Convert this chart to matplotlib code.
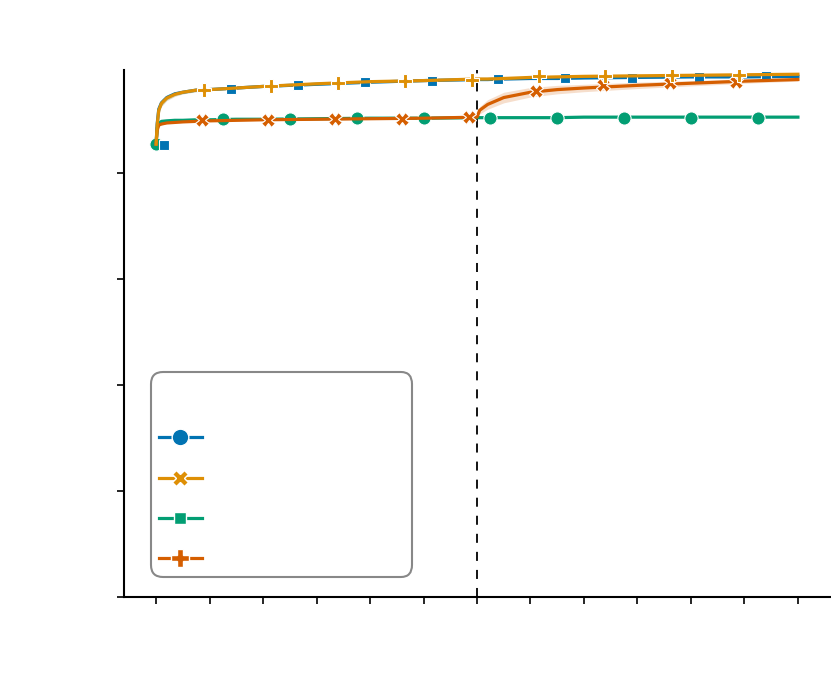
import matplotlib.pyplot as plt
from matplotlib.lines import Line2D

# ----------------------------------------------------------------------------
# Data
x = [0, 0.02, 0.05, 0.1, 0.2, 0.35, 0.5, 0.75, 1, 1.5, 2, 3, 4, 5, 6,
     6.05, 6.2, 6.5, 7, 7.5, 8, 9, 10, 11, 12]

blue_y = [0.855, 0.893, 0.921, 0.933, 0.943, 0.950, 0.953, 0.957, 0.958,
          0.961, 0.964, 0.968, 0.972, 0.975, 0.977, 0.977, 0.977, 0.978,
          0.979, 0.979, 0.980, 0.981, 0.982, 0.982, 0.983]
orange_y = [0.855, 0.891, 0.919, 0.932, 0.942, 0.949, 0.953, 0.957, 0.958,
            0.961, 0.964, 0.969, 0.973, 0.975, 0.978, 0.978, 0.978, 0.979,
            0.981, 0.982, 0.983, 0.984, 0.985, 0.986, 0.987]
green_y = [0.855, 0.885, 0.894, 0.898, 0.899, 0.900, 0.900, 0.901, 0.901,
           0.902, 0.902, 0.903, 0.904, 0.904, 0.905, 0.905, 0.905, 0.905,
           0.905, 0.905, 0.906, 0.906, 0.906, 0.906, 0.906]
verm_y = [0.855, 0.881, 0.891, 0.893, 0.895, 0.896, 0.897, 0.898, 0.899,
          0.900, 0.901, 0.902, 0.903, 0.904, 0.906, 0.919, 0.930, 0.943,
          0.953, 0.958, 0.961, 0.966, 0.970, 0.974, 0.977]

# half width of the shaded bands
blue_sd = [0, 0.006, 0.007, 0.006, 0.005, 0.004, 0.003, 0.003, 0.002,
           0.002, 0.002, 0.002, 0.002, 0.002, 0.002, 0.002, 0.002, 0.002,
           0.002, 0.002, 0.002, 0.002, 0.002, 0.002, 0.002]
orange_sd = [0, 0.006, 0.007, 0.006, 0.005, 0.004, 0.003, 0.003, 0.002,
             0.002, 0.002, 0.002, 0.002, 0.002, 0.002, 0.002, 0.002, 0.002,
             0.002, 0.002, 0.002, 0.002, 0.002, 0.002, 0.002]
green_sd = [0, 0.003, 0.002, 0.002, 0.001, 0.001, 0.001, 0.001, 0.001,
            0.001, 0.001, 0.001, 0.001, 0.001, 0.001, 0.001, 0.001, 0.001,
            0.001, 0.001, 0.001, 0.001, 0.001, 0.001, 0.001]
verm_sd = [0, 0.003, 0.002, 0.002, 0.001, 0.001, 0.001, 0.001, 0.001,
           0.001, 0.001, 0.001, 0.001, 0.001, 0.002, 0.007, 0.009, 0.010,
           0.009, 0.008, 0.007, 0.006, 0.005, 0.004, 0.003]

# marker positions
green_mx = [0, 1.25, 2.5, 3.75, 5, 6.25, 7.5, 8.75, 10, 11.25]
green_my = [0.855, 0.902, 0.903, 0.904, 0.904, 0.905, 0.905, 0.905, 0.905, 0.905]
blue_mx = [0.15, 1.4, 2.65, 3.9, 5.15, 6.4, 7.65, 8.9, 10.15, 11.4]
blue_my = [0.853, 0.959, 0.966, 0.972, 0.975, 0.978, 0.979, 0.980, 0.981, 0.983]
orange_mx = [0.9, 2.15, 3.4, 4.65, 5.9, 7.15, 8.4, 9.65, 10.9]
orange_my = [0.958, 0.965, 0.970, 0.974, 0.977, 0.983, 0.984, 0.985, 0.986]
verm_mx = [0.85, 2.1, 3.35, 4.6, 5.85, 7.1, 8.35, 9.6, 10.85]
verm_my = [0.900, 0.901, 0.902, 0.903, 0.906, 0.956, 0.966, 0.970, 0.973]

x_ticks = list(range(13))
y_ticks = [0, 0.2, 0.4, 0.6, 0.8]
switch_x = 6

BLUE, ORANGE, GREEN, VERM = "#0173b2", "#de8f05", "#029e73", "#d55e00"


# ----------------------------------------------------------------------------
fig = plt.figure(figsize=(8.31, 7.0), dpi=100)
ax = fig.add_axes([124 / 831, 103 / 700, 706 / 831, 527 / 700])


def draw(y, sd, mx, my, color, marker, ms, z):
    lo = [a - b for a, b in zip(y, sd)]
    hi = [a + b for a, b in zip(y, sd)]
    ax.fill_between(x, lo, hi, color=color, alpha=0.2, lw=0, zorder=z)
    ax.plot(x, y, color=color, lw=2.3, zorder=z + 0.1)
    ax.plot(mx, my, ls="none", marker=marker, ms=ms, color=color,
            mec="white", mew=0.8, zorder=z + 0.2)


draw(green_y, green_sd, green_mx, green_my, GREEN, "o", 9.5, 2)
draw(blue_y, blue_sd, blue_mx, blue_my, BLUE, "s", 7.5, 3)
draw(verm_y, verm_sd, verm_mx, verm_my, VERM, "X", 9.5, 4)
draw(orange_y, orange_sd, orange_mx, orange_my, ORANGE, "P", 10, 5)

ax.axvline(switch_x, color="black", ls=(0, (5, 5)), lw=1.3, zorder=1)

ax.set_xlim(-0.6, 12.6)
ax.set_ylim(0, 0.995)
ax.set_xticks(x_ticks)
ax.set_yticks(y_ticks)
ax.tick_params(labelleft=False, labelbottom=False, length=5, width=1.2)
for side in ["top", "right"]:
    ax.spines[side].set_visible(False)
for side in ["left", "bottom"]:
    ax.spines[side].set_linewidth(1.5)

# legend (no visible text in the reference)
handles = [
    Line2D([], [], color=BLUE, marker="o", ms=12, mec="white", mew=1, lw=2.3),
    Line2D([], [], color=ORANGE, marker="X", ms=12, mec="white", mew=1, lw=2.3),
    Line2D([], [], color=GREEN, marker="s", ms=9, mec="white", mew=1, lw=2.3),
    Line2D([], [], color=VERM, marker="P", ms=13, mec="white", mew=1, lw=2.3),
]
labels = ["\u00a0" * 30] * 4
leg = ax.legend(handles, labels, title="\u00a0", loc="lower left",
                bbox_to_anchor=(27 / 706, 20 / 527), borderaxespad=0,
                fontsize=14, title_fontsize=21, handlelength=2.2,
                labelspacing=1.1, frameon=True, fancybox=True,
                framealpha=1)
frame = leg.get_frame()
frame.set_edgecolor("#888888")
frame.set_linewidth(1.5)
frame.set_boxstyle("round", pad=0, rounding_size=0.6)

plt.savefig("out.png", dpi=100)
